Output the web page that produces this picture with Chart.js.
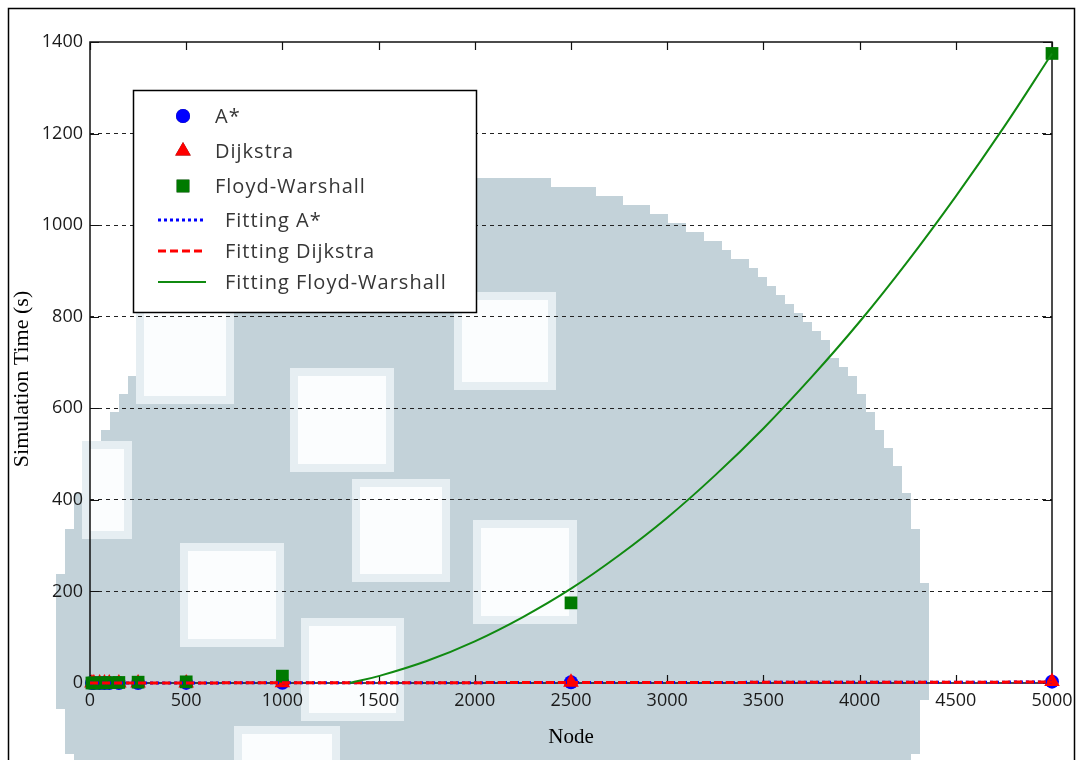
<!DOCTYPE html>
<html>
<head>
<meta charset="utf-8">
<title>Simulation Time vs Node</title>
<script src="https://cdn.jsdelivr.net/npm/chart.js"></script>
<style>
  html, body { margin: 0; padding: 0; background: #fff; }
  #wrap { width: 1080px; height: 760px; }
</style>
</head>
<body>
<div id="wrap"><canvas id="chart" width="1080" height="760"></canvas></div>
<script>
// measured points
const nodes    = [10, 20, 50, 75, 100, 150, 250, 500, 1000, 2500, 5000];
const aStar    = [0.01, 0.01, 0.02, 0.03, 0.04, 0.06, 0.1, 0.2, 0.5, 1.5, 3];
const dijkstra = [0.01, 0.01, 0.02, 0.03, 0.05, 0.07, 0.12, 0.25, 0.6, 1.8, 3.5];
const floyd    = [0.02, 0.05, 0.2, 0.4, 0.7, 1.2, 1.8, 2.5, 15, 175, 1375];

// fitted curves
const fitNodes    = [0, 1250, 2500, 3750, 5000];
const fitAStar    = [0, 0.5, 1, 1.5, 2];
const fitDijkstra = [0, 0.5, 1, 1.5, 2];
const fitFloydNodes = [1350, 1500, 1750, 2000, 2250, 2500, 2750, 3000, 3250, 3500, 3750, 4000, 4250, 4500, 4750, 5000];
const fitFloyd      = [0, 15, 48, 91, 144, 206, 279, 361, 454, 556, 668, 789, 921, 1063, 1214, 1375];

const xTicks = [0, 500, 1000, 1500, 2000, 2500, 3000, 3500, 4000, 4500, 5000];
const yTicks = [0, 200, 400, 600, 800, 1000, 1200, 1400];

const toXY = (xs, ys) => xs.map((x, i) => ({ x, y: ys[i] }));

const BLUE = '#0000ff', RED = '#ff0000', GREEN = '#007a00', LINEGREEN = '#108a10';
const SANS = '"Open Sans", sans-serif';
const SERIF = '"Liberation Serif", "DejaVu Serif", serif';

// faded logo watermark behind the plot
const backdrop = {
  id: 'backdrop',
  beforeDraw(chart) {
    const ctx = chart.ctx;
    ctx.save();
    ctx.fillStyle = '#fff';
    ctx.fillRect(0, 0, chart.width, chart.height);
    const cx = 492, cy = 640, rx = 436, ry = 462, cell = 9;
    ctx.fillStyle = '#c3d2d9';
    for (let y = cy - ry; y < chart.height; y += cell) {
      for (let x = cx - rx; x < cx + rx; x += cell) {
        const dx = (x + cell / 2 - cx) / rx, dy = (y + cell / 2 - cy) / ry;
        if (dx * dx + dy * dy <= 1) ctx.fillRect(x, y, cell, cell);
      }
    }
    const holes = [[294, 372, 96, 96], [356, 483, 90, 95], [184, 547, 96, 96], [458, 296, 94, 90],
                   [477, 524, 96, 96], [305, 622, 95, 95], [238, 730, 98, 40], [140, 300, 90, 100], [86, 445, 42, 90]];
    holes.forEach(([x, y, w, h]) => {
      ctx.fillStyle = '#e6eef2';
      ctx.fillRect(x - 4, y - 4, w + 8, h + 8);
      ctx.fillStyle = '#fbfdfe';
      ctx.fillRect(x + 4, y + 4, w - 8, h - 8);
    });
    ctx.restore();
  }
};

// box around the plot with inward ticks, plus the y title
const frame = {
  id: 'frame',
  beforeDatasetsDraw(chart) {
    const { ctx, chartArea: a, scales: { x, y } } = chart;
    ctx.save();
    ctx.strokeStyle = '#111';
    ctx.lineWidth = 1.5;
    ctx.strokeRect(a.left, a.top, a.right - a.left, a.bottom - a.top);
    ctx.lineWidth = 1.2;
    ctx.beginPath();
    xTicks.forEach(v => {
      const px = Math.round(x.getPixelForValue(v)) + 0.5;
      ctx.moveTo(px, a.bottom); ctx.lineTo(px, a.bottom - 8);
      ctx.moveTo(px, a.top); ctx.lineTo(px, a.top + 8);
    });
    yTicks.forEach(v => {
      const py = Math.round(y.getPixelForValue(v)) + 0.5;
      ctx.moveTo(a.left, py); ctx.lineTo(a.left + 9, py);
      ctx.moveTo(a.right, py); ctx.lineTo(a.right - 9, py);
    });
    ctx.stroke();

    ctx.translate(22, 379);
    ctx.rotate(-Math.PI / 2);
    ctx.font = '22px ' + SERIF;
    ctx.fillStyle = '#000';
    ctx.textAlign = 'center';
    ctx.textBaseline = 'middle';
    ctx.fillText('Simulation Time (s)', 0, 0);
    ctx.restore();
  }
};

// legend box inside the plot + outer page frame
const legendBox = {
  id: 'legendBox',
  afterDraw(chart) {
    const ctx = chart.ctx;
    ctx.save();
    ctx.fillStyle = '#fff';
    ctx.fillRect(133, 90, 343, 222);
    ctx.strokeStyle = '#000';
    ctx.lineWidth = 1.5;
    ctx.strokeRect(133.5, 90.5, 343, 222);

    ctx.font = '20px ' + SANS;
    ctx.letterSpacing = '1px';
    ctx.fillStyle = '#363636';
    ctx.textBaseline = 'middle';
    const ds = chart.data.datasets;
    const rows = [116, 151, 186, 220, 251, 282];
    ds.forEach((d, i) => {
      const yy = rows[i];
      if (d.showLine) {
        ctx.save();
        ctx.strokeStyle = d.borderColor;
        ctx.lineWidth = d.borderWidth;
        ctx.setLineDash(d.borderDash || []);
        ctx.beginPath();
        ctx.moveTo(158, yy); ctx.lineTo(206, yy);
        ctx.stroke();
        ctx.restore();
        ctx.fillText(d.label, 225, yy + 1);
      } else {
        Chart.helpers.drawPoint(ctx, {
          pointStyle: d.pointStyle, radius: d.pointRadius, borderWidth: 0, rotation: 0
        }, 183, yy);
        ctx.fillStyle = d.backgroundColor;
        ctx.fill();
        ctx.fillStyle = '#363636';
        ctx.fillText(d.label, 215, yy + 1);
      }
    });

    ctx.strokeStyle = '#000';
    ctx.lineWidth = 1.5;
    ctx.strokeRect(8.5, 8.5, 1066, 800);
    ctx.restore();
  }
};

const pointSet = (label, ys, style, r, color, order) => ({
  label, data: toXY(nodes, ys), showLine: false,
  pointStyle: style, pointRadius: r, pointBorderWidth: 0,
  backgroundColor: color, borderColor: color, order, clip: false
});
const fitSet = (label, xs, ys, color, width, dash, order) => ({
  label, data: toXY(xs, ys), showLine: true, pointRadius: 0,
  borderColor: color, borderWidth: width, borderDash: dash,
  backgroundColor: color, tension: 0.4, order, clip: false
});

new Chart(document.getElementById('chart'), {
  type: 'scatter',
  data: {
    datasets: [
      pointSet('A*', aStar, 'circle', 7, BLUE, 6),
      pointSet('Dijkstra', dijkstra, 'triangle', 9, RED, 5),
      pointSet('Floyd-Warshall', floyd, 'rect', 9, GREEN, 4),
      fitSet('Fitting A*', fitNodes, fitAStar, BLUE, 3, [3, 3], 3),
      fitSet('Fitting Dijkstra', fitNodes, fitDijkstra, RED, 3, [8, 4], 2),
      fitSet('Fitting Floyd-Warshall', fitFloydNodes, fitFloyd, LINEGREEN, 2, [], 1)
    ]
  },
  options: {
    responsive: false,
    animation: false,
    events: [],
    layout: { padding: { top: 42, right: 28, left: 0, bottom: 0 } },
    plugins: { legend: { display: false }, tooltip: { enabled: false } },
    scales: {
      x: {
        type: 'linear', min: 0, max: 5000,
        afterFit: s => { s.height = 77; },
        afterBuildTicks: s => { s.ticks = xTicks.map(v => ({ value: v })); },
        ticks: { color: '#1a1a1a', font: { family: SANS, size: 18 }, padding: 7, maxRotation: 0, callback: v => String(v) },
        grid: { display: false, drawTicks: false },
        border: { display: false },
        title: { display: true, text: 'Node', color: '#000', font: { family: SERIF, size: 21 }, padding: { top: 0, bottom: 10 } }
      },
      y: {
        type: 'linear', min: 0, max: 1400,
        afterFit: s => { s.width = 90; },
        afterBuildTicks: s => { s.ticks = yTicks.map(v => ({ value: v })); },
        ticks: { color: '#1a1a1a', font: { family: SANS, size: 18 }, padding: 7, callback: v => String(v) },
        grid: {
          drawTicks: false, lineWidth: 1,
          color: c => (c.tick.value === 0 || c.tick.value === 1400) ? 'rgba(0,0,0,0)' : '#222'
        },
        border: { display: false, dash: [4, 4] },
        title: { display: false }
      }
    }
  },
  plugins: [backdrop, frame, legendBox]
});
</script>
</body>
</html>
